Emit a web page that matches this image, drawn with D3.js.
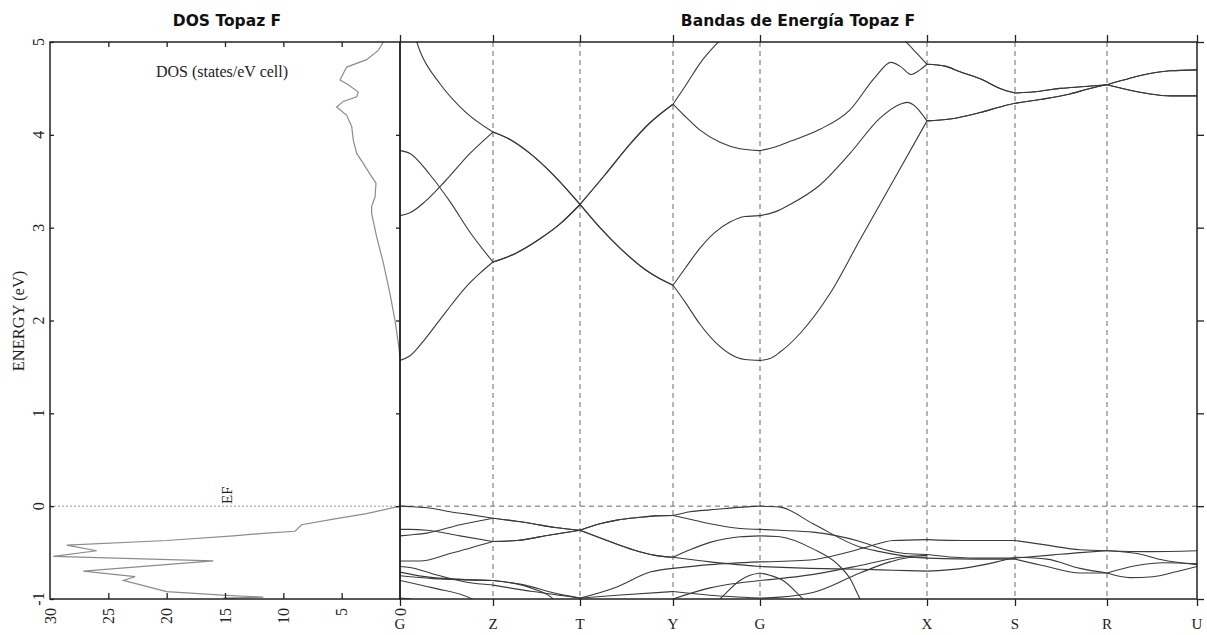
<!DOCTYPE html>
<html><head><meta charset="utf-8">
<script src="https://cdn.jsdelivr.net/npm/d3@7"></script>
<style>body{margin:0;background:#fff}svg{display:block}</style>
</head><body><svg id="c" width="1207" height="635"></svg>
<script>
// ---------- DATA ----------
const kPoints = [0, 0.93, 1.80, 2.73, 3.60, 5.27, 6.15, 7.07, 7.97];
const kLabels = ["G", "Z", "T", "Y", "G", "X", "S", "R", "U"];
const energyTicks = [-1, 0, 1, 2, 3, 4, 5];
const dosTicks = [30, 25, 20, 15, 10, 5, 0];

// DOS curve [states/eV cell, energy eV]
const dosConduction = [[1.43,5.0],[1.86,4.91],[2.86,4.81],[4.57,4.73],[4.86,4.66],[5.14,4.59],[4.43,4.54],[3.57,4.46],[3.71,4.41],[4.86,4.36],[5.43,4.30],[4.57,4.21],[4.14,4.09],[4.0,3.94],[3.71,3.80],[3.14,3.69],[2.43,3.55],[2.06,3.48],[2.14,3.33],[2.43,3.23],[2.43,3.15],[2.0,2.90],[1.43,2.62],[0.86,2.29],[0.43,2.0],[0.14,1.75],[0,1.61]];
const dosValence = [[0,0],[2.86,-0.08],[5.71,-0.14],[8.43,-0.20],[9.0,-0.27],[11.43,-0.29],[14.29,-0.32],[20,-0.37],[28.57,-0.42],[26.0,-0.48],[29.71,-0.54],[16.0,-0.59],[27.14,-0.70],[22.71,-0.76],[23.71,-0.80],[20,-0.92],[14.86,-0.96],[11.71,-0.98],[15.14,-0.99],[14,-1.0]];

// Conduction bands [k, energy eV]
const bandC1 = [[0,1.57],[0.1,1.62],[0.25,1.8],[0.45,2.08],[0.65,2.35],[0.8,2.51],[0.93,2.63],
  [1.15,2.72],[1.4,2.88],[1.6,3.04],[1.8,3.25],
  [2.0,3.0],[2.2,2.78],[2.45,2.55],[2.6,2.45],[2.73,2.38],
  [2.85,2.2],[3.0,1.96],[3.15,1.77],[3.3,1.64],[3.45,1.58],[3.6,1.57],
  [3.7,1.59],[3.8,1.66],[4.0,1.86],[4.3,2.29],[4.6,2.87],[4.93,3.5],[5.27,4.15],
  [5.5,4.17],[5.8,4.24],[6.0,4.3],[6.15,4.34],
  [6.4,4.38],[6.7,4.44],[6.9,4.5],[7.07,4.54],
  [7.3,4.48],[7.5,4.44],[7.7,4.42],[7.97,4.42]];
const bandC2 = [[0,3.83],[0.1,3.8],[0.3,3.57],[0.5,3.28],[0.7,2.95],[0.93,2.63],
  [1.15,2.72],[1.4,2.88],[1.6,3.04],[1.8,3.25],
  [2.0,3.0],[2.2,2.78],[2.45,2.55],[2.6,2.45],[2.73,2.38],
  [2.85,2.56],[3.0,2.78],[3.15,2.95],[3.3,3.06],[3.45,3.12],[3.6,3.13],
  [3.75,3.17],[3.9,3.25],[4.2,3.46],[4.5,3.8],[4.8,4.18],[5.0,4.33],[5.07,4.35],[5.15,4.31],[5.2,4.25],[5.27,4.15],
  [5.5,4.17],[5.8,4.24],[6.0,4.3],[6.15,4.34],
  [6.4,4.38],[6.7,4.44],[6.9,4.5],[7.07,4.54],
  [7.3,4.61],[7.5,4.66],[7.7,4.69],[7.97,4.70]];
const bandC3 = [[0,3.13],[0.1,3.16],[0.25,3.28],[0.45,3.5],[0.7,3.8],[0.93,4.03],
  [1.1,3.95],[1.3,3.8],[1.55,3.55],[1.8,3.25],
  [2.05,3.57],[2.3,3.9],[2.5,4.13],[2.73,4.33],
  [2.85,4.2],[3.0,4.05],[3.2,3.92],[3.4,3.85],[3.6,3.83],
  [3.75,3.87],[3.9,3.93],[4.2,4.06],[4.5,4.27],[4.75,4.62],[4.91,4.78],[5.0,4.74],[5.11,4.65],[5.2,4.7],[5.27,4.76],
  [5.45,4.74],[5.6,4.68],[5.83,4.59],[6.0,4.5],[6.15,4.45],
  [6.4,4.47],[6.6,4.5],[6.85,4.52],[7.07,4.54],
  [7.3,4.48],[7.5,4.44],[7.7,4.42],[7.97,4.42]];
const bandC4 = [[0,5.5],[0.08,5.3],[0.2,4.9],[0.4,4.55],[0.65,4.25],[0.93,4.03],
  [1.1,3.95],[1.3,3.8],[1.55,3.55],[1.8,3.25],
  [2.05,3.57],[2.3,3.9],[2.5,4.13],[2.73,4.33],
  [2.85,4.52],[3.0,4.77],[3.2,5.02],[3.4,5.25],[3.6,5.35],
  [4.0,5.35],[4.5,5.25],[4.85,5.1],[5.06,5.0],[5.15,4.9],[5.27,4.76],
  [5.45,4.74],[5.6,4.68],[5.83,4.59],[6.0,4.5],[6.15,4.45],
  [6.4,4.47],[6.6,4.5],[6.85,4.52],[7.07,4.54],
  [7.3,4.61],[7.5,4.66],[7.7,4.69],[7.97,4.70]];

// Valence bands [k, energy eV]
const bandV1 = [[0,0],[0.1,-0.005],[0.33,-0.025],[0.5,-0.06],[0.67,-0.086],[0.93,-0.13],
  [1.15,-0.16],[1.33,-0.19],[1.55,-0.23],[1.8,-0.26],
  [2.0,-0.19],[2.17,-0.15],[2.4,-0.12],[2.55,-0.105],[2.73,-0.10],
  [2.9,-0.06],[3.1,-0.04],[3.43,-0.01],[3.6,0],
  [3.8,-0.01],[4.13,-0.19],[4.6,-0.44],[4.8,-0.49],[5.13,-0.55],[5.27,-0.56],
  [5.8,-0.57],[6.15,-0.57],
  [6.47,-0.65],[6.8,-0.72],[7.07,-0.72],
  [7.3,-0.77],[7.53,-0.76],[7.75,-0.71],[7.97,-0.65]];
const bandV2 = [[0,-0.25],[0.1,-0.25],[0.27,-0.26],[0.6,-0.32],[0.93,-0.38],
  [1.17,-0.37],[1.5,-0.31],[1.8,-0.26],
  [2.07,-0.37],[2.33,-0.47],[2.55,-0.53],[2.73,-0.55],
  [2.9,-0.47],[3.1,-0.39],[3.4,-0.33],[3.6,-0.32],
  [3.8,-0.33],[4.13,-0.46],[4.37,-0.62],[4.5,-0.78],[4.6,-1.0],[4.65,-1.1]];
const bandV3 = [[0,-0.32],[0.1,-0.31],[0.27,-0.29],[0.6,-0.2],[0.93,-0.13],
  [1.15,-0.16],[1.33,-0.19],[1.55,-0.23],[1.8,-0.26],
  [2.0,-0.19],[2.17,-0.15],[2.4,-0.12],[2.55,-0.105],[2.73,-0.10],
  [2.9,-0.14],[3.1,-0.19],[3.4,-0.24],[3.6,-0.25],
  [3.8,-0.26],[4.13,-0.28],[4.6,-0.38],[4.85,-0.47],[5.05,-0.51],[5.27,-0.52],
  [5.55,-0.55],[5.8,-0.56],[6.15,-0.56],
  [6.48,-0.53],[6.8,-0.5],[7.07,-0.48],
  [7.47,-0.49],[7.97,-0.48]];
const bandV4 = [[0,-0.59],[0.1,-0.59],[0.2,-0.59],[0.5,-0.51],[0.93,-0.38],
  [1.17,-0.37],[1.5,-0.31],[1.8,-0.26],
  [2.07,-0.37],[2.33,-0.47],[2.55,-0.53],[2.73,-0.55],
  [3.1,-0.6],[3.6,-0.65],
  [4.1,-0.67],[4.6,-0.68],[4.93,-0.69],[5.27,-0.70],
  [5.63,-0.67],[5.97,-0.60],[6.15,-0.55],
  [6.47,-0.57],[6.8,-0.67],[7.07,-0.72],
  [7.37,-0.64],[7.63,-0.61],[7.97,-0.62]];
const bandV5 = [[0,-0.65],[0.1,-0.66],[0.33,-0.73],[0.67,-0.82],[0.93,-0.85],
  [1.33,-0.92],[1.8,-0.99],
  [2.17,-0.87],[2.5,-0.71],[2.73,-0.67],
  [3.1,-0.63],[3.6,-0.60],
  [4.1,-0.58],[4.43,-0.51],[4.67,-0.44],[4.93,-0.37],[5.27,-0.36],
  [5.63,-0.37],[6.15,-0.37],
  [6.47,-0.42],[6.8,-0.47],[7.07,-0.48],
  [7.37,-0.51],[7.63,-0.58],[7.97,-0.63]];
const bandV6 = [[0,-0.71],[0.33,-0.77],[0.93,-0.80],
  [1.33,-0.89],[1.53,-1.0],[1.6,-1.1]];
const bandV7 = [[1.8,-0.99],[2.17,-0.96],[2.73,-0.92],
  [3.1,-0.96],[3.6,-0.99],
  [3.8,-0.98],[4.13,-0.93],[4.6,-0.72],[4.9,-0.6],[5.13,-0.55],[5.27,-0.55]];
const bandV8 = [[2.6,-1.1],[2.73,-1.0],[3.1,-0.88],[3.6,-0.80],
  [4.1,-0.74],[4.6,-0.64],[5.0,-0.55],[5.27,-0.53]];
const bandV9 = [[3.15,-1.05],[3.2,-1.0],[3.4,-0.80],[3.5,-0.745],[3.6,-0.72],
  [3.7,-0.745],[3.83,-0.80],[4.03,-1.0],[4.08,-1.05]];
const bandV10 = [[0,-0.80],[0.33,-0.88],[0.72,-1.0],[0.8,-1.05]];
const bandV11 = [[0,-0.75],[0.33,-0.78],[0.93,-0.80],
  [1.2,-0.84],[1.6,-0.95],[1.8,-0.99]];
const bandV12 = [[0,-0.99],[0.1,-1.0],[0.2,-1.05]];

const bands = [bandC1, bandC2, bandC3, bandC4, bandV1, bandV2, bandV3, bandV4, bandV5, bandV6, bandV7, bandV8, bandV9, bandV10, bandV11, bandV12];

// ---------- DRAW ----------
const svg = d3.select("#c");
const yE = d3.scaleLinear().domain([-1, 5]).range([599, 42]);
const xDos = d3.scaleLinear().domain([30, 0]).range([50, 400]);
const xK = d3.scaleLinear().domain([0, 7.97]).range([400, 1197]);

const defs = svg.append("defs");
defs.append("clipPath").attr("id", "clipB").append("rect")
  .attr("x", xK(0)).attr("y", yE(5)).attr("width", xK(7.97) - xK(0)).attr("height", yE(-1) - yE(5));
defs.append("clipPath").attr("id", "clipD").append("rect")
  .attr("x", xDos(30)).attr("y", yE(5)).attr("width", xDos(0) - xDos(30)).attr("height", yE(-1) - yE(5));

// dashed k lines
svg.append("g").selectAll("line").data(kPoints.slice(1, -1)).join("line")
  .attr("x1", d => xK(d)).attr("x2", d => xK(d))
  .attr("y1", yE(5)).attr("y2", yE(-1))
  .attr("stroke", "#6a6a6a").attr("stroke-width", 1).attr("stroke-dasharray", "5,4");

// Fermi level
svg.append("line").attr("x1", xDos(30)).attr("x2", xDos(0)).attr("y1", yE(0)).attr("y2", yE(0))
  .attr("stroke", "#999").attr("stroke-width", 1).attr("stroke-dasharray", "2,2");
svg.append("line").attr("x1", xK(0)).attr("x2", xK(7.97)).attr("y1", yE(0)).attr("y2", yE(0))
  .attr("stroke", "#6a6a6a").attr("stroke-width", 1).attr("stroke-dasharray", "5,4");

// bands, split at high-symmetry points
const eps = 1e-6;
function splitBand(b) {
  const segs = []; let cur = [];
  b.forEach((p, i) => {
    cur.push(p);
    const isK = kPoints.some(k => Math.abs(k - p[0]) < eps);
    if (isK && cur.length > 1 && i < b.length - 1) { segs.push(cur); cur = [p]; }
  });
  if (cur.length > 1) segs.push(cur);
  return segs;
}
const bandLine = d3.line().x(d => xK(d[0])).y(d => yE(d[1])).curve(d3.curveMonotoneX);
const gB = svg.append("g").attr("clip-path", "url(#clipB)");
bands.forEach(b => {
  splitBand(b).forEach(s => {
    gB.append("path").attr("d", bandLine(s)).attr("fill", "none")
      .attr("stroke", "#3a3a3a").attr("stroke-width", 1.1);
  });
});

// DOS
const dosLine = d3.line().x(d => xDos(d[0])).y(d => yE(d[1]));
const gD = svg.append("g").attr("clip-path", "url(#clipD)");
[dosConduction, dosValence].forEach(c => {
  gD.append("path").attr("d", dosLine(c)).attr("fill", "none")
    .attr("stroke", "#8c8c8c").attr("stroke-width", 1.2);
});

// axes ticks
function tickAxis(axis, tx, ty) {
  const g = svg.append("g").attr("transform", `translate(${tx},${ty})`).call(axis);
  g.select(".domain").remove();
  g.selectAll("text").remove();
  g.selectAll("line").attr("stroke", "#222").attr("stroke-width", 1.3);
  return g;
}
const innerDos = [25, 20, 15, 10, 5];
tickAxis(d3.axisTop(xDos).tickValues(innerDos).tickSize(-5), 0, yE(5));
tickAxis(d3.axisTop(xDos).tickValues(innerDos).tickSize(6), 0, yE(-1));
tickAxis(d3.axisRight(yE).tickValues(energyTicks).tickSize(4), xDos(30), 0);
tickAxis(d3.axisLeft(yE).tickValues(energyTicks.slice(1, -1)).tickSize(4), xDos(0), 0);
tickAxis(d3.axisTop(xK).tickValues(kPoints).tickSize(7), 0, yE(5));
tickAxis(d3.axisBottom(xK).tickValues(kPoints).tickSize(7), 0, yE(-1));
tickAxis(d3.axisRight(yE).tickValues(energyTicks).tickSize(7), xK(7.97), 0);

// frames
const frame = svg.append("g").attr("stroke", "#222").attr("stroke-width", 1.5).attr("fill", "none");
frame.append("rect").attr("x", xDos(30)).attr("y", yE(5)).attr("width", xDos(0) - xDos(30)).attr("height", yE(-1) - yE(5));
frame.append("rect").attr("x", xK(0)).attr("y", yE(5)).attr("width", xK(7.97) - xK(0)).attr("height", yE(-1) - yE(5));

// text
const serif = "'Liberation Serif','Times New Roman',serif";
svg.append("text").attr("x", 227).attr("y", 26).attr("text-anchor", "middle")
  .attr("font-family", "'DejaVu Sans',sans-serif").attr("font-weight", "bold").attr("font-size", 15.5)
  .attr("fill", "#111").text("DOS Topaz F");
svg.append("text").attr("x", 798).attr("y", 26).attr("text-anchor", "middle")
  .attr("font-family", "'DejaVu Sans',sans-serif").attr("font-weight", "bold").attr("font-size", 15.5)
  .attr("fill", "#111").text("Bandas de Energía Topaz F");
svg.append("text").attr("x", 222).attr("y", 77).attr("text-anchor", "middle")
  .attr("font-family", serif).attr("font-size", 16).attr("fill", "#222").text("DOS (states/eV cell)");
svg.append("text").attr("transform", `translate(18,${321}) rotate(-90)`).attr("text-anchor", "middle")
  .attr("dominant-baseline", "central")
  .attr("font-family", serif).attr("font-size", 16.5).attr("fill", "#222").text("ENERGY (eV)");
svg.append("text").attr("transform", `translate(227,${yE(0) - 11}) rotate(-90)`).attr("text-anchor", "middle")
  .attr("dominant-baseline", "central")
  .attr("font-family", serif).attr("font-size", 15).attr("fill", "#222").text("EF");

svg.append("g").selectAll("text").data(energyTicks).join("text")
  .attr("transform", d => `translate(38,${yE(d)}) rotate(-90)`)
  .attr("text-anchor", "middle").attr("dominant-baseline", "central")
  .attr("font-family", serif).attr("font-size", 16).attr("fill", "#222").text(d => String(d));
svg.append("g").selectAll("text").data(dosTicks).join("text")
  .attr("transform", d => `translate(${xDos(d)},608) rotate(-90)`)
  .attr("text-anchor", "end").attr("dominant-baseline", "central")
  .attr("font-family", serif).attr("font-size", 16).attr("fill", "#222").text(d => String(d));
svg.append("g").selectAll("text").data(kPoints).join("text")
  .attr("x", d => xK(d)).attr("y", 629).attr("text-anchor", "middle")
  .attr("font-family", serif).attr("font-size", 15).attr("fill", "#222")
  .text((d, i) => kLabels[i]);
</script>
</body></html>
